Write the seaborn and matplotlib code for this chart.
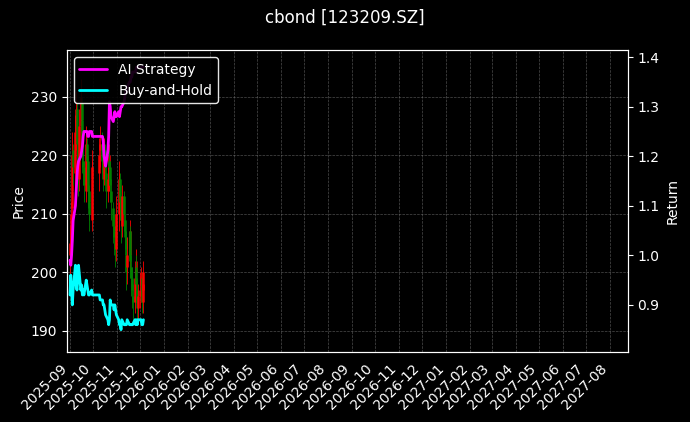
import numpy as np
import pandas as pd
import matplotlib
matplotlib.use("Agg")
import matplotlib.pyplot as plt
import matplotlib.dates as mdates
import seaborn as sns

sep = pd.bdate_range("2025-09-01", "2025-09-30")
octo = pd.bdate_range("2025-10-09", "2025-10-31")
nov = pd.bdate_range("2025-11-03", "2025-11-28")
dec = pd.bdate_range("2025-12-01", "2025-12-05")
dates = sep.append(octo).append(nov).append(dec)

opens = [203,205,211,214,221,217,224,228,221,216,225,229,226,219,218,214,222,219,214,212,209,216,
         217,221,222,219,216,221,217,214,216,219,218,214,211,208,205,204,207,
         210,214,216,212,208,213,209,206,203,201,203,207,201,199,196,195,200,201,197,194,
         196,198,199,195,197]
closes = [205,210,214,220,218,224,228,222,216,225,230,226,220,218,215,222,219,214,212,210,216,218,
          220,222,219,217,221,218,214,216,220,218,215,212,208,206,204,207,210,
          214,216,212,209,213,210,206,204,200,203,207,202,199,197,195,199,202,198,194,196,
          197,199,195,198,200]
highs = [208,212,216,224,222,227,231,229,223,228,233,230,227,221,219,225,223,220,215,214,219,221,
         223,225,224,220,223,222,219,218,222,221,219,216,212,210,208,210,213,
         217,219,217,213,215,214,210,207,205,206,209,208,203,201,198,201,204,203,199,198,
         200,201,200,200,202]
lows = [199,203,209,212,215,214,221,219,213,214,222,223,217,215,212,212,216,211,209,207,207,213,
        214,218,216,214,215,215,211,212,214,215,212,209,205,203,201,202,205,
        207,211,209,205,206,207,203,200,197,198,200,199,196,194,192,193,197,195,192,192,
        194,195,193,193,195]

ai_ret = [0.99,0.98,1.00,1.03,1.07,1.10,1.13,1.16,1.18,1.19,1.20,1.21,1.22,1.24,1.25,1.25,1.25,1.24,1.24,1.25,1.25,1.24,
          1.24,1.24,1.24,1.23,1.20,1.19,1.18,1.21,1.24,1.31,1.30,1.28,1.27,1.28,1.29,1.28,1.28,
          1.29,1.28,1.29,1.30,1.30,1.31,1.32,1.33,1.33,1.34,1.35,1.35,1.36,1.36,1.37,1.37,1.37,1.38,1.38,1.38,
          1.38,1.38,1.38,1.38,1.38]
bh_ret = [0.92,0.96,0.93,0.90,0.93,0.98,0.94,0.93,0.95,0.98,0.93,0.94,0.92,0.93,0.92,0.95,0.94,0.93,0.92,0.92,0.93,0.92,
          0.92,0.91,0.91,0.90,0.90,0.89,0.88,0.87,0.86,0.87,0.91,0.90,0.90,0.89,0.90,0.89,0.88,
          0.87,0.86,0.86,0.85,0.87,0.86,0.86,0.86,0.86,0.87,0.86,0.86,0.86,0.86,0.86,0.87,0.86,0.87,0.86,0.87,
          0.87,0.87,0.86,0.86,0.87]

sns.set_style("dark")
plt.rcParams.update({"figure.facecolor": "black", "axes.facecolor": "black",
                     "text.color": "white", "axes.labelcolor": "white",
                     "xtick.color": "white", "ytick.color": "white",
                     "axes.edgecolor": "white", "font.family": ["DejaVu Sans"]})

fig, ax = plt.subplots(figsize=(6.9, 4.22), dpi=100)
fig.subplots_adjust(left=0.097, right=0.91, top=0.881, bottom=0.166)

for d, o, c, h, l in zip(dates, opens, closes, highs, lows):
    col = "red" if c >= o else "green"
    ax.vlines(d, l, h, color=col, linewidth=0.6)
    ax.vlines(d, min(o, c), max(o, c), color=col, linewidth=1.8)

ax.set_ylim(186.4, 238.0)
ax.set_xlim(pd.Timestamp("2025-08-28"), pd.Timestamp("2027-08-24"))
ax.set_ylabel("Price")
ax.grid(True, color="gray", linestyle="--", linewidth=0.5, alpha=0.6)

ax2 = ax.twinx()
df = pd.DataFrame({"date": dates, "AI Strategy": ai_ret, "Buy-and-Hold": bh_ret})
sns.lineplot(data=df, x="date", y="AI Strategy", ax=ax2, color="magenta", linewidth=2, label="AI Strategy")
sns.lineplot(data=df, x="date", y="Buy-and-Hold", ax=ax2, color="cyan", linewidth=2, label="Buy-and-Hold")
ax2.set_ylim(0.805, 1.414)
ax2.set_ylabel("Return")
ax2.set_xlabel("")
ax2.grid(False)
ax2.tick_params(colors="white")
for sp in ax2.spines.values():
    sp.set_color("white")
leg = ax2.legend(loc="upper left", facecolor="black", edgecolor="white", framealpha=0.9)
for t in leg.get_texts():
    t.set_color("white")

ax.xaxis.set_major_locator(mdates.MonthLocator())
ax.xaxis.set_major_formatter(mdates.DateFormatter("%Y-%m"))
plt.setp(ax.get_xticklabels(), rotation=45, ha="right")
ax.set_xlabel("")

fig.suptitle("cbond [123209.SZ]", color="white", fontsize=12)
fig.savefig("out.png", dpi=100, facecolor="black")
